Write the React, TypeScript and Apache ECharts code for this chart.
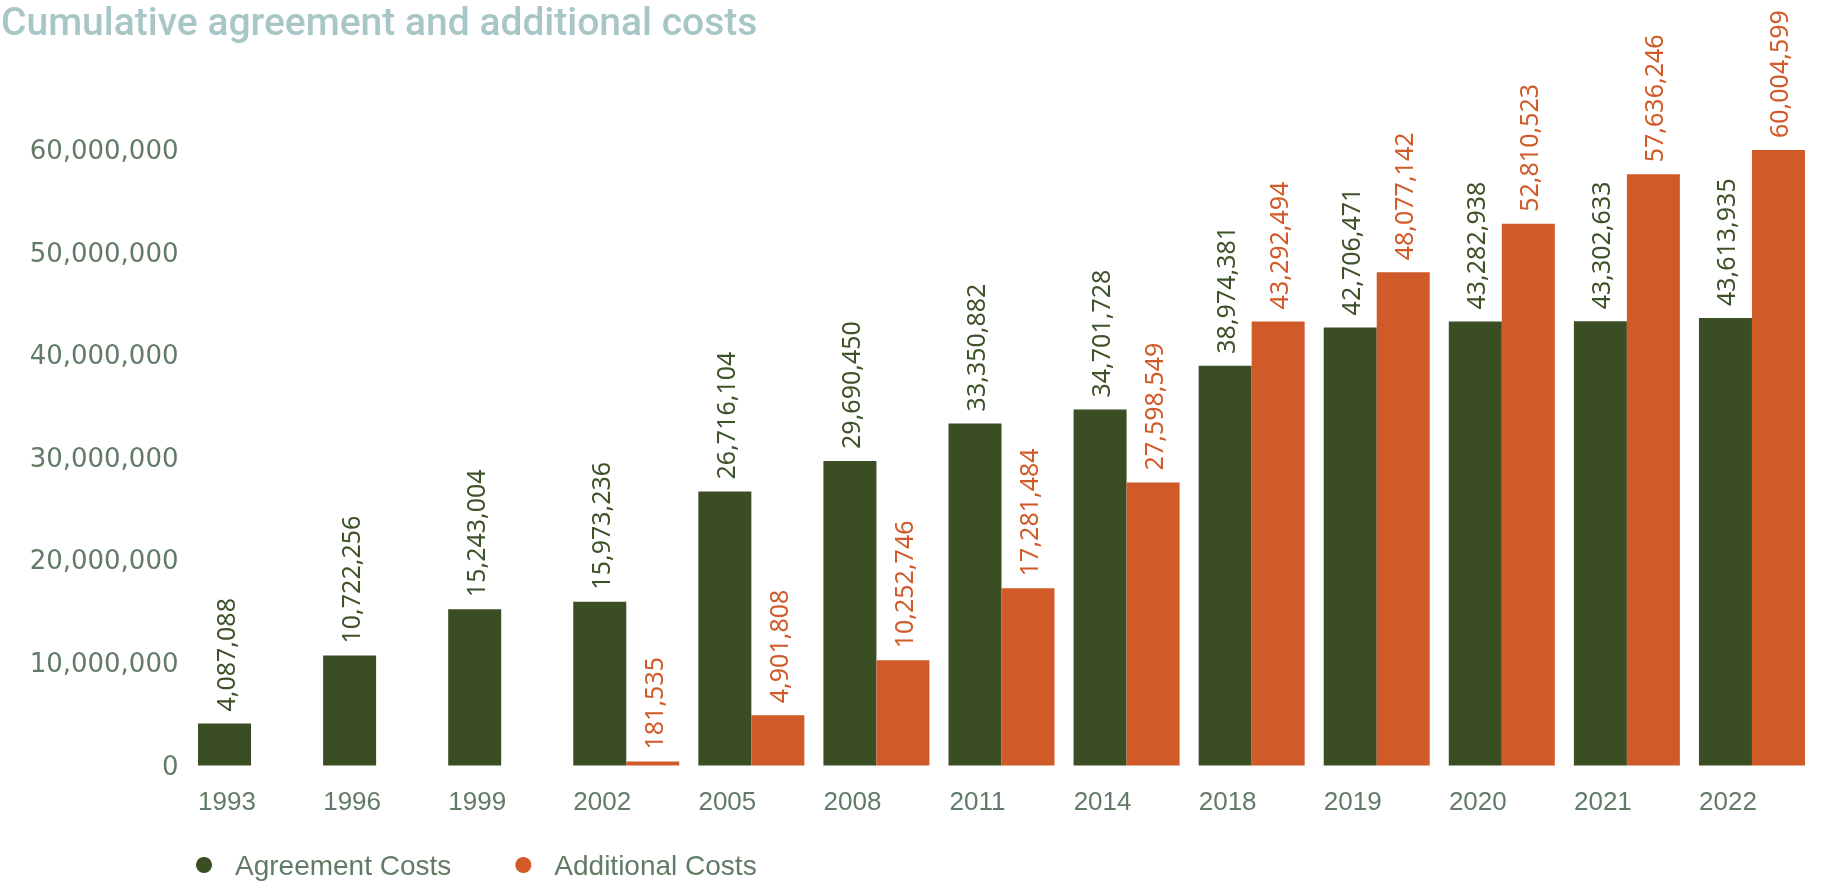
import React, { useEffect, useRef } from "react";
import * as echarts from "echarts";

const titleText = "Cumulative agreement and additional costs";
const years = ["1993", "1996", "1999", "2002", "2005", "2008", "2011", "2014", "2018", "2019", "2020", "2021", "2022"];
const agreementCosts = [4087088, 10722256, 15243004, 15973236, 26716104, 29690450, 33350882, 34701728, 38974381, 42706471, 43282938, 43302633, 43613935];
const additionalCosts = [null, null, null, 181535, 4901808, 10252746, 17281484, 27598549, 43292494, 48077142, 52810523, 57636246, 60004599];
const seriesNames = ["Agreement Costs", "Additional Costs"];
const yMin = 0;
const yMax = 60000000;
const yInterval = 10000000;

const GREEN = "#3a4d23";
const LABEL_GREEN = "#3d5229";
const ORANGE = "#d05a28";
const AXIS_TEXT = "#627b66";
const TITLE = "#a9c6c7";

const fmt = (v: number) => Number(v).toLocaleString("en-US");

export default function App() {
  const ref = useRef<HTMLDivElement>(null);
  useEffect(() => {
    if (!ref.current) return;
    const chart = echarts.init(ref.current, undefined, { renderer: "svg" });
    const labelBase = {
      show: true,
      position: "top",
      rotate: 90,
      align: "left",
      verticalAlign: "middle",
      distance: 12,
      fontFamily: "Noto Sans",
      fontSize: 25,
      formatter: (p: any) => fmt(p.value),
    };
    chart.setOption({
      animation: false,
      title: {
        text: titleText,
        left: 0,
        top: 0,
        padding: [2, 2, 2, 1],
        textStyle: { color: TITLE, fontFamily: "Roboto", fontWeight: 500, fontSize: 39 },
      },
      legend: {
        left: 191,
        top: 846,
        icon: "circle",
        itemWidth: 16,
        itemHeight: 16,
        itemGap: 64,
        data: seriesNames,
        textStyle: { color: AXIS_TEXT, fontFamily: "Liberation Sans", fontSize: 28, padding: [0, 0, 0, 18] },
      },
      grid: { left: 188.5, right: 15.5, top: 150, bottom: 117.5, containLabel: false },
      xAxis: {
        type: "category",
        data: years,
        axisLine: { show: false },
        axisTick: { show: false },
        axisLabel: {
          color: AXIS_TEXT,
          fontFamily: "Liberation Sans",
          fontSize: 26,
          margin: 22,
          align: "center",
          padding: [0, 48, 0, 0],
        },
      },
      yAxis: {
        type: "value",
        min: yMin,
        max: yMax,
        interval: yInterval,
        splitLine: { show: false },
        axisLine: { show: false },
        axisTick: { show: false },
        axisLabel: {
          color: AXIS_TEXT,
          fontFamily: "DejaVu Sans",
          fontSize: 26,
          margin: 10,
          formatter: (v: number) => fmt(v),
        },
      },
      series: [
        {
          name: seriesNames[0],
          type: "bar",
          data: agreementCosts,
          barWidth: 53,
          barGap: "0%",
          itemStyle: { color: GREEN },
          label: { ...labelBase, color: LABEL_GREEN },
        },
        {
          name: seriesNames[1],
          type: "bar",
          data: additionalCosts,
          barWidth: 53,
          barGap: "0%",
          barMinHeight: 4,
          itemStyle: { color: ORANGE },
          label: { ...labelBase, color: ORANGE },
        },
      ],
    });
    return () => chart.dispose();
  }, []);
  return <div ref={ref} style={{ position: "fixed", left: 0, top: 0, width: 1830, height: 883 }} />;
}
